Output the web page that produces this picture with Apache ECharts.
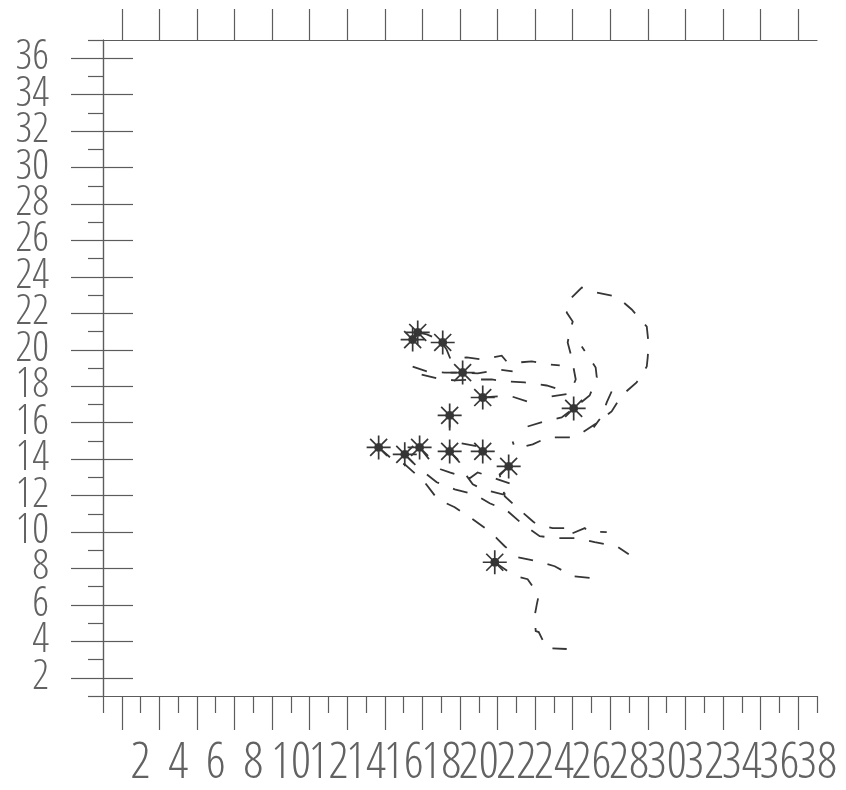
<!DOCTYPE html>
<html>
<head>
<meta charset="utf-8">
<script src="https://cdn.jsdelivr.net/npm/echarts@6/dist/echarts.min.js"></script>
<style>
  html, body { margin: 0; padding: 0; background: #ffffff; }
  #chart { width: 846px; height: 790px; }
</style>
</head>
<body>
<div id="chart"></div>
<script>
// Axis extents and tick positions
const xExtent = [0, 38];
const yExtent = [1, 37];
const xLabelValues = [2, 4, 6, 8, 10, 12, 14, 16, 18, 20, 22, 24, 26, 28, 30, 32, 34, 36, 38];
const xEvenTicks = [0, 2, 4, 6, 8, 10, 12, 14, 16, 18, 20, 22, 24, 26, 28, 30, 32, 34, 36, 38];
const xOddTicks = [1, 3, 5, 7, 9, 11, 13, 15, 17, 19, 21, 23, 25, 27, 29, 31, 33, 35, 37];
const yLabelValues = [2, 4, 6, 8, 10, 12, 14, 16, 18, 20, 22, 24, 26, 28, 30, 32, 34, 36];
const yOddTicks = [1, 3, 5, 7, 9, 11, 13, 15, 17, 19, 21, 23, 25, 27, 29, 31, 33, 35, 37];

// Starting points (asterisks)
const startPoints = [
  [14.67, 14.64], [16.06, 14.26], [16.85, 14.64], [18.45, 14.42], [20.21, 14.42],
  [21.59, 13.60], [18.45, 16.40], [20.21, 17.38], [19.14, 18.75], [16.48, 20.56],
  [16.75, 20.95], [18.08, 20.40], [25.05, 16.78], [20.85, 8.34]
];

// Dashed tracks
const trackOuterLoop = [
  [23.88, 17.44], [24.84, 17.60], [25.16, 18.37], [24.94, 19.58], [24.73, 20.40],
  [24.84, 21.00], [25.00, 21.55], [24.68, 22.04], [24.89, 22.81], [25.48, 23.41],
  [26.28, 23.14], [27.34, 22.92], [28.14, 22.21], [28.94, 21.27], [29.04, 20.29],
  [28.99, 19.58], [28.94, 19.08], [28.40, 18.21], [27.60, 17.49], [27.07, 16.62],
  [26.33, 16.01], [25.53, 15.47], [24.94, 15.19], [24.31, 15.19], [23.67, 15.19],
  [22.87, 14.81], [22.18, 14.64], [21.91, 14.64], [21.80, 14.97]
];
const trackInnerLoop = [
  [22.60, 15.79], [23.51, 16.07], [24.41, 16.29], [25.05, 16.78], [25.90, 17.49],
  [26.28, 18.48], [26.22, 19.03], [26.01, 19.36], [25.48, 20.18]
];
const trackHook = [[27.07, 17.71], [26.81, 17.11], [26.54, 16.34], [26.11, 15.74]];
const trackNorth1 = [
  [16.75, 20.95], [17.23, 20.84], [17.92, 20.56], [18.29, 20.01], [18.50, 19.47],
  [19.36, 19.58], [20.15, 19.47], [21.22, 19.68], [21.48, 19.36], [22.07, 19.30],
  [22.82, 19.36], [23.77, 19.19], [24.31, 19.14]
];
const trackNorth2 = [
  [16.48, 19.08], [17.23, 18.81], [18.19, 18.75], [19.14, 18.75], [19.94, 18.70],
  [20.58, 18.81], [21.01, 18.92], [21.80, 18.81]
];
const trackNorth3 = [
  [16.96, 18.64], [17.81, 18.42], [18.72, 18.32], [19.78, 18.37], [20.69, 18.37],
  [21.48, 18.26], [22.44, 18.21], [23.61, 18.04], [24.31, 17.82]
];
const trackNorth4 = [[20.21, 17.38], [21.01, 17.44], [21.75, 17.44], [22.60, 17.16], [23.24, 17.27]];
const trackShort1 = [[18.45, 16.40], [18.45, 15.36], [18.45, 14.42]];
const trackShort2 = [[19.09, 14.86], [19.94, 14.70], [20.21, 14.42]];
const trackSouth1 = [
  [14.67, 14.64], [15.52, 13.88], [16.06, 13.71], [16.48, 13.33], [17.12, 12.73],
  [17.49, 12.23], [17.81, 11.79], [18.72, 11.36], [19.20, 11.03], [19.68, 10.70],
  [20.58, 10.04], [21.01, 9.60], [21.38, 9.22], [22.07, 8.62], [23.08, 8.40],
  [24.04, 8.12], [25.00, 7.58], [26.06, 7.47]
];
const trackSouth2 = [
  [16.06, 14.26], [16.70, 13.60], [17.76, 12.73], [18.72, 12.34], [19.78, 12.07],
  [20.58, 11.58], [21.54, 11.14], [22.34, 10.42], [23.24, 9.77], [24.15, 9.66],
  [25.21, 9.66], [26.17, 9.44], [27.34, 9.22], [27.98, 8.78]
];
const trackSouth3 = [
  [16.85, 14.64], [17.49, 13.82], [17.97, 13.44], [18.45, 13.27], [19.52, 12.95],
  [19.94, 13.27], [21.01, 12.89], [21.64, 12.67]
];
const trackSouth4 = [
  [18.45, 14.42], [18.98, 13.82], [19.30, 13.16], [19.68, 12.62], [20.21, 12.34],
  [21.27, 12.07], [22.07, 12.34]
];
const trackSouth5 = [
  [21.59, 13.60], [21.11, 13.16], [21.27, 12.45], [21.38, 11.96], [22.02, 11.36],
  [22.87, 10.59], [23.08, 10.42], [23.93, 10.21], [24.68, 10.21], [24.73, 9.82],
  [25.64, 10.21], [25.80, 10.04], [26.81, 9.99]
];
const trackSouth6 = [
  [20.85, 8.34], [21.54, 7.85], [22.18, 7.52], [22.60, 7.41], [23.19, 6.53],
  [23.08, 5.99], [22.97, 5.38], [23.03, 4.56], [23.19, 4.51], [23.61, 3.63], [24.68, 3.58]
];

const tracks = [
  trackOuterLoop, trackInnerLoop, trackHook, trackNorth1, trackNorth2, trackNorth3,
  trackNorth4, trackShort1, trackShort2, trackSouth1, trackSouth2, trackSouth3,
  trackSouth4, trackSouth5, trackSouth6
];

const ink = '#363636';
const frame = '#5c5c5c';
const labelColor = '#626262';
const labelFont = "'Open Sans Condensed Light', 'Open Sans Condensed', 'DejaVu Sans Condensed', sans-serif";

// Labels are shared out between two stacked axes per side (every other label on each),
// so that the crowded, overlapping tick numbers are all kept.
const xLabelsA = xLabelValues.filter((v, i) => i % 2 === 0);
const xLabelsB = xLabelValues.filter((v, i) => i % 2 === 1);
const yLabelsA = yLabelValues.filter((v, i) => i % 2 === 0);
const yLabelsB = yLabelValues.filter((v, i) => i % 2 === 1);

// Eight-armed asterisk with a filled hub
const asterisk = 'path://M0,-10L0,10M-10,0L10,0M-7.07,-7.07L7.07,7.07M-7.07,7.07L7.07,-7.07' +
  'M-3,0A3,3,0,1,1,3,0A3,3,0,1,1,-3,0Z';

const tickStyle = { color: frame, width: 1.2 };

function baseAxis(extra) {
  return Object.assign({
    type: 'value',
    splitLine: { show: false },
    axisLine: { show: true, lineStyle: { color: frame, width: 1.2 } },
    axisTick: { show: true, lineStyle: tickStyle },
    axisLabel: { show: false }
  }, extra);
}

function xLabels(values) {
  return {
    show: true, customValues: values, margin: 44, hideOverlap: false,
    fontFamily: labelFont, fontSize: 50, color: labelColor,
    formatter: v => String(v)
  };
}

function yLabels(values) {
  return {
    show: true, customValues: values, margin: 54, hideOverlap: false,
    fontFamily: labelFont, fontSize: 42, color: labelColor,
    formatter: v => String(v)
  };
}

const chart = echarts.init(document.getElementById('chart'), null, { renderer: 'canvas' });

chart.setOption({
  animation: false,
  backgroundColor: '#ffffff',
  grid: { left: 103, right: 29, top: 40, bottom: 93, containLabel: false },
  xAxis: [
    baseAxis({
      position: 'bottom', min: xExtent[0], max: xExtent[1],
      axisTick: { show: true, length: 17, customValues: xEvenTicks, lineStyle: tickStyle },
      axisLabel: xLabels(xLabelsA)
    }),
    baseAxis({
      position: 'bottom', min: xExtent[0], max: xExtent[1],
      axisLine: { show: false },
      axisTick: { show: true, length: 34, customValues: xOddTicks, lineStyle: tickStyle },
      axisLabel: xLabels(xLabelsB)
    }),
    baseAxis({
      position: 'top', min: xExtent[0], max: xExtent[1],
      axisTick: { show: true, length: 31, customValues: xOddTicks, lineStyle: tickStyle }
    })
  ],
  yAxis: [
    baseAxis({
      position: 'left', min: yExtent[0], max: yExtent[1],
      axisTick: { show: true, length: 32, customValues: yLabelValues, lineStyle: tickStyle },
      axisLabel: yLabels(yLabelsA)
    }),
    baseAxis({
      position: 'left', min: yExtent[0], max: yExtent[1],
      axisLine: { show: false },
      axisTick: { show: true, length: 15, customValues: yOddTicks, lineStyle: tickStyle },
      axisLabel: yLabels(yLabelsB)
    }),
    baseAxis({
      position: 'right', min: yExtent[0], max: yExtent[1],
      axisTick: { show: true, length: 30, customValues: yLabelValues, lineStyle: tickStyle }
    })
  ],
  series: [
    {
      type: 'lines',
      coordinateSystem: 'cartesian2d',
      xAxisIndex: 0, yAxisIndex: 0,
      polyline: true,
      silent: true,
      lineStyle: { color: ink, width: 1.8, type: [15, 15], opacity: 1 },
      data: tracks.map(t => ({ coords: t }))
    },
    {
      type: 'scatter',
      xAxisIndex: 0, yAxisIndex: 0,
      symbol: asterisk,
      symbolSize: 24,
      silent: true,
      itemStyle: { color: '#262626', borderColor: ink, borderWidth: 1.7, opacity: 1 },
      data: startPoints
    }
  ]
});
</script>
</body>
</html>
